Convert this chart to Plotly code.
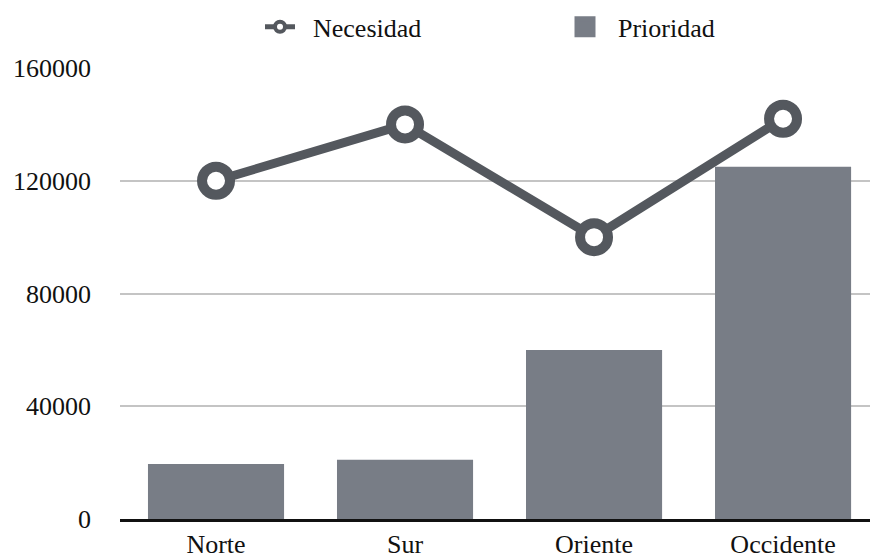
import plotly.graph_objects as go

regions = ["Norte", "Sur", "Oriente", "Occidente"]
necesidad = [120000, 140000, 100000, 142000]
prioridad = [19500, 21000, 60000, 125000]
y_ticks = [0, 40000, 80000, 120000, 160000]

LINE = "#54585e"
BAR = "#787d86"
FONT = "Liberation Serif"
idx = list(range(len(regions)))
PAD = "\u00a0"

fig = go.Figure()

# Priority bars
fig.add_trace(go.Bar(
    x=idx, y=prioridad, name="Prioridad",
    marker=dict(color=BAR, line=dict(width=0)),
    showlegend=False,
))

# Need line with ring markers
fig.add_trace(go.Scatter(
    x=idx, y=necesidad, mode="lines+markers", name="Necesidad",
    line=dict(color=LINE, width=9),
    marker=dict(symbol="circle", size=28, color="white",
                line=dict(color=LINE, width=10)),
    cliponaxis=False, showlegend=False,
))

# Legend entries (compact symbols)
fig.add_trace(go.Scatter(
    x=[None], y=[None], mode="lines+markers", name=PAD * 2 + "Necesidad",
    line=dict(color=LINE, width=5),
    marker=dict(symbol="circle", size=10, color="white",
                line=dict(color=LINE, width=4)),
))
fig.add_trace(go.Scatter(
    x=[None], y=[None], mode="markers", name=PAD * 2 + "Prioridad",
    marker=dict(symbol="square", size=16, color=BAR,
                line=dict(color=BAR, width=5)),
))

fig.update_layout(
    width=870, height=559,
    margin=dict(l=120, r=0, t=68, b=38),
    paper_bgcolor="white", plot_bgcolor="white",
    font=dict(family=FONT, size=26, color="#111111"),
    bargap=0.28,
    showlegend=True,
    legend=dict(orientation="h", x=0.217, xanchor="left", y=0.952, yanchor="middle",
                yref="container", font=dict(family=FONT, size=26),
                entrywidth=260, itemwidth=30, itemsizing="trace"),
    xaxis=dict(
        tickmode="array", tickvals=idx, ticktext=regions,
        range=[-0.508, 3.460],
        showgrid=False, zeroline=False,
        showline=True, linecolor="#111111", linewidth=3,
        ticks="", tickfont=dict(family=FONT, size=26, color="#111111"),
    ),
    yaxis=dict(
        range=[0, 160000], tickmode="array", tickvals=y_ticks,
        ticktext=[str(v) for v in y_ticks],
        showgrid=True, gridcolor="#c4c4c4", gridwidth=2,
        zeroline=False, showline=False, ticks="",
        ticklabelstandoff=28,
        tickfont=dict(family=FONT, size=26, color="#111111"),
    ),
)

fig.write_html("out.html")
